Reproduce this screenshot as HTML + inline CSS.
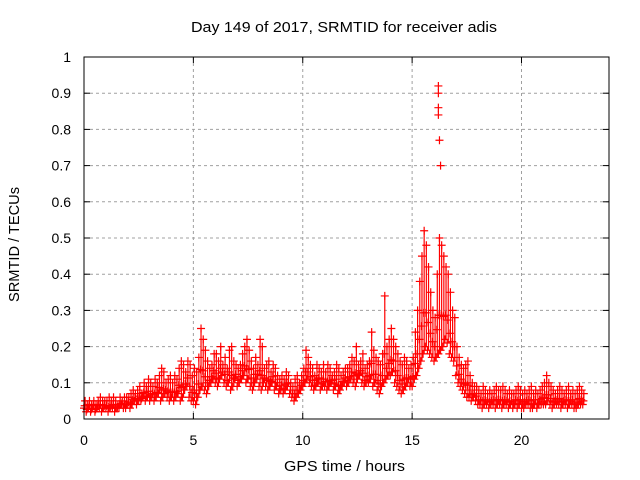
<!DOCTYPE html>
<html><head><meta charset="utf-8"><style>
html,body{margin:0;padding:0;background:#fff;}
svg{display:block;font-family:"Liberation Sans",sans-serif;}
</style></head><body>
<svg id="chart" width="640" height="480" xmlns="http://www.w3.org/2000/svg">
<text x="191" y="32" textLength="306" lengthAdjust="spacingAndGlyphs" font-size="15">Day 149 of 2017, SRMTID for receiver adis</text>
<text x="284" y="471" textLength="121" lengthAdjust="spacingAndGlyphs" font-size="15">GPS time / hours</text>
<text transform="translate(19,302) rotate(-90)" textLength="115" lengthAdjust="spacingAndGlyphs" font-size="15">SRMTID / TECUs</text>
<g id="grid"></g><g id="marks"></g><g id="axes"></g>
</svg>
<script>
const xTicks=[0,5,10,15,20];
const yTicks=[0,0.1,0.2,0.3,0.4,0.5,0.6,0.7,0.8,0.9,1];
const yTickLabels=["0","0.1","0.2","0.3","0.4","0.5","0.6","0.7","0.8","0.9","1"];
const lowVals=[3,2,3,2,3,2,3,3,2,3, 3,2,3,3,2,3,3,4,3,3, 4,3,4,5,4,5,5,6,5,6, 5,6,5,6,7,5,6,7,6,5, 6,5,6,7,5,6,8,9,6,5, 5,4,6,8,9,8,7,9,10,11, 10,9,11,12,10,9,10,8,9,11, 9,10,11,12,10,11,9,8,10,11, 9,8,10,9,8,9,10,8,9,7, 8,7,8,9,7,6,5,6,7,8, 9,10,11,10,9,8,9,10,8,9, 9,8,9,10,8,9,7,8,9,10, 9,10,11,10,9,11,12,10,9,10, 10,11,9,10,8,7,9,10,11,12, 12,13,10,9,8,7,8,9,10,9, 9,11,12,14,16,18,20,19,18,17, 16,17,18,19,20,22,21,18,17,16, 12,10,9,8,7,6,6,5,6,5, 4,4,3,4,4,3,4,4,3,4, 4,3,4,4,3,4,3,4,3,4, 3,3,4,4,3,3,4,3,4,4, 4,4,5,4,3,4,4,4,3,4, 4,3,4,4,3,3,4,4,4];
const highVals=[5,4,5,4,5,4,5,6,5,5, 5,6,5,6,5,4,6,5,6,6, 6,7,8,7,8,9,7,10,9,11, 10,9,11,10,12,14,13,10,11,12, 10,12,11,14,16,15,13,16,15,12, 14,13,17,25,22,19,16,14,15,18, 18,16,20,15,17,14,19,20,16,15, 14,15,18,20,22,19,16,14,17,15, 22,20,14,15,16,13,15,14,12,11, 12,11,13,12,10,9,11,12,10,12, 14,19,17,15,14,12,15,14,13,15, 13,15,14,12,13,15,14,12,13,14, 14,15,17,16,20,15,16,18,14,15, 16,24,19,17,16,15,18,34,20,22, 25,22,20,18,16,15,17,16,14,15, 17,24,30,38,45,52,48,42,35,30, 28,40,50,48,45,42,40,35,30,28, 20,17,15,14,15,16,12,10,9,9, 8,7,9,8,7,8,7,8,9,8, 8,9,8,7,8,7,7,8,9,8, 7,8,7,8,9,7,8,7,8,9, 10,12,10,9,8,7,8,9,8,7, 8,9,7,8,7,8,9,8,7];
const outlierTimes=[16.2,16.2,16.2,16.2,16.25,16.3];
const outlierVals=[0.92,0.90,0.86,0.84,0.77,0.70];
const L=84,R=609,T=57,B=419,XMAX=24;
const sx=v=>L+v*(R-L)/XMAX, sy=v=>B-v*(B-T);
const NS="http://www.w3.org/2000/svg";
function mk(tag,attrs,parent){const e=document.createElementNS(NS,tag);for(const k in attrs)e.setAttribute(k,attrs[k]);parent.appendChild(e);return e;}
const grid=document.getElementById('grid'),marks=document.getElementById('marks'),axes=document.getElementById('axes');
yTicks.forEach((v,i)=>{
 if(v>0&&v<1){const g=mk('line',{x1:L,x2:R,y1:sy(v),y2:sy(v),stroke:'#a0a0a0','stroke-dasharray':'3,3'},grid);
 
 }
 const t=mk('text',{x:L-13,y:sy(v)+5,'text-anchor':'end','font-size':'14'},axes);t.textContent=yTickLabels[i];
 
 
 mk('line',{x1:L,x2:L+6,y1:sy(v),y2:sy(v),stroke:'#000'},axes);
 mk('line',{x1:R,x2:R-6,y1:sy(v),y2:sy(v),stroke:'#000'},axes);
});
xTicks.forEach(v=>{
 if(v>0){const g=mk('line',{x1:sx(v),x2:sx(v),y1:T,y2:B,stroke:'#a0a0a0','stroke-dasharray':'3,3'},grid);
 
 }
 const t=mk('text',{x:sx(v),y:B+26,'text-anchor':'middle','font-size':'14'},axes);t.textContent=String(v);
 
 
 mk('line',{x1:sx(v),x2:sx(v),y1:B,y2:B-6,stroke:'#000'},axes);
 mk('line',{x1:sx(v),x2:sx(v),y1:T,y2:T+6,stroke:'#000'},axes);
});
const frame=mk('rect',{x:L,y:T,width:R-L,height:B-T,fill:'none',stroke:'#000'},axes);


function plus(x,y,name){const p=mk('path',{d:`M${x-4},${y}h8M${x},${y-4}v8`,stroke:'#f00','stroke-width':'1.2',fill:'none'},marks);
 
 }
lowVals.forEach((v,i)=>{
 const t=i*0.1, h=highVals[i]/100, l=v/100;
 const ln=mk('line',{x1:sx(t+0.05),x2:sx(t+0.05),y1:sy(l),y2:sy(h),stroke:'#f00','stroke-width':'1.2'},marks);
 
 
 plus(sx(t),sy(l),'data-point-low');
 plus(sx(t+0.05),sy(h),'data-point-high');
 plus(sx(t+0.03),sy((l*2+h)/3),'data-point');
});
outlierVals.forEach((v,i)=>plus(sx(outlierTimes[i]),sy(v),'outlier-point'));
</script>
</body></html>
